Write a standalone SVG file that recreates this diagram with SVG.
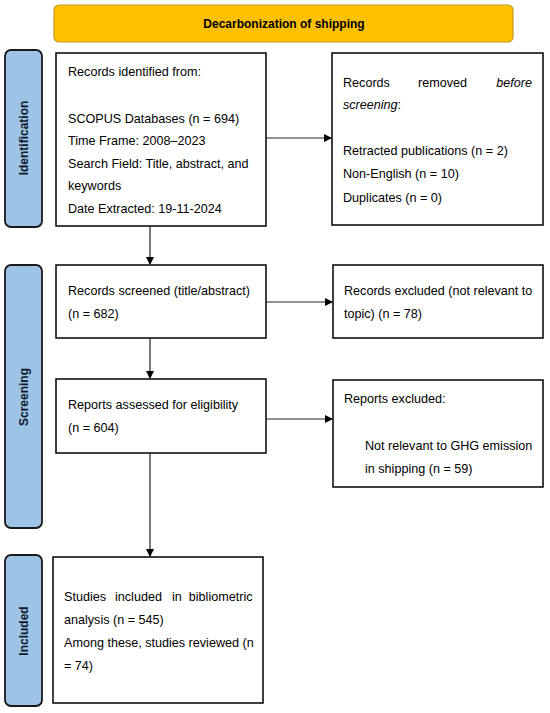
<svg xmlns="http://www.w3.org/2000/svg" width="550" height="713" viewBox="0 0 550 713">
<defs>
<marker id="arr" markerWidth="8" markerHeight="8" refX="7" refY="4" orient="auto" markerUnits="userSpaceOnUse">
<path d="M0,0 L8,4 L0,8 Z" fill="#000"/>
</marker>
<style>
.t{font-family:"Liberation Sans",Arial,sans-serif;font-size:12.6px;fill:#000}
.b{font-weight:bold;font-size:12px}
.s{fill:#101a2a}
.box{fill:#fff;stroke:#000;stroke-width:1.5}
.bar{fill:#9DC3E6;stroke:#1a1a1a;stroke-width:1.8}
.c{fill:none;stroke:#222;stroke-width:1.2}
</style>
</defs>
<rect width="550" height="713" fill="#fff"/>
<g id="title">
<rect x="54" y="5" width="459" height="37" rx="5" fill="#FFC000" stroke="#C39A1A" stroke-width="1.2"/>
<text class="t b" x="284" y="28" text-anchor="middle">Decarbonization of shipping</text>
</g>
<g id="bar-identification">
<rect class="bar" x="5" y="50" width="37" height="177" rx="6"/>
<text class="t b s" transform="translate(28,138) rotate(-90)" text-anchor="middle">Identification</text>
</g>
<g id="bar-screening">
<rect class="bar" x="5" y="265" width="37" height="263" rx="6"/>
<text class="t b s" transform="translate(28,397) rotate(-90)" text-anchor="middle">Screening</text>
</g>
<g id="bar-included">
<rect class="bar" x="5" y="555" width="37" height="151" rx="6"/>
<text class="t b s" transform="translate(28,631) rotate(-90)" text-anchor="middle">Included</text>
</g>
<g id="identified">
<rect class="box" x="56" y="53" width="210" height="173"/>
<text class="t" x="68" y="76">Records identified from:</text>
<text class="t" x="68" y="123">SCOPUS Databases (n = 694)</text>
<text class="t" x="68" y="145">Time Frame: 2008–2023</text>
<text class="t" x="68" y="168">Search Field: Title, abstract, and</text>
<text class="t" x="68" y="190">keywords</text>
<text class="t" x="68" y="213">Date Extracted: 19-11-2024</text>
</g>
<g id="removed">
<rect class="box" x="332" y="53" width="211" height="172"/>
<text class="t" x="343" y="87">Records</text>
<text class="t" x="418" y="87">removed</text>
<text class="t" x="532" y="87" text-anchor="end" font-style="italic">before</text>
<text class="t" x="343" y="109"><tspan font-style="italic">screening</tspan>:</text>
<text class="t" x="343" y="155">Retracted publications (n = 2)</text>
<text class="t" x="343" y="178">Non-English (n = 10)</text>
<text class="t" x="343" y="202">Duplicates (n = 0)</text>
</g>
<g id="screened">
<rect class="box" x="56" y="265" width="210" height="73"/>
<text class="t" x="68" y="295">Records screened (title/abstract)</text>
<text class="t" x="68" y="318">(n = 682)</text>
</g>
<g id="excluded-records">
<rect class="box" x="333" y="265" width="210" height="73"/>
<text class="t" x="344" y="295">Records excluded (not relevant to</text>
<text class="t" x="344" y="318">topic) (n = 78)</text>
</g>
<g id="assessed">
<rect class="box" x="56" y="379" width="210" height="74"/>
<text class="t" x="68" y="409">Reports assessed for eligibility</text>
<text class="t" x="68" y="432">(n = 604)</text>
</g>
<g id="excluded-reports">
<rect class="box" x="333" y="380" width="210" height="107"/>
<text class="t" x="344" y="403">Reports excluded:</text>
<text class="t" x="365" y="450">Not relevant to GHG emission</text>
<text class="t" x="365" y="473">in shipping (n = 59)</text>
</g>
<g id="included">
<rect class="box" x="53" y="557" width="210" height="146"/>
<text class="t" x="64" y="601">Studies</text>
<text class="t" x="115" y="601">included</text>
<text class="t" x="172" y="601">in</text>
<text class="t" x="252.5" y="601" text-anchor="end">bibliometric</text>
<text class="t" x="64" y="624">analysis (n = 545)</text>
<text class="t" x="64" y="647">Among these, studies reviewed (n</text>
<text class="t" x="64" y="670">= 74)</text>
</g>
<g id="connectors">
<line class="c" x1="266" y1="138" x2="331" y2="138" marker-end="url(#arr)"/>
<line class="c" x1="150" y1="226" x2="150" y2="264" marker-end="url(#arr)"/>
<line class="c" x1="266" y1="302" x2="332" y2="302" marker-end="url(#arr)"/>
<line class="c" x1="150" y1="338" x2="150" y2="378" marker-end="url(#arr)"/>
<line class="c" x1="266" y1="419" x2="332" y2="419" marker-end="url(#arr)"/>
<line class="c" x1="150" y1="453" x2="150" y2="556" marker-end="url(#arr)"/>
</g>
</svg>
